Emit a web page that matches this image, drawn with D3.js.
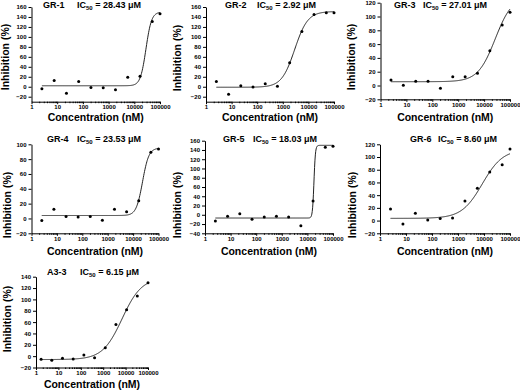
<!DOCTYPE html>
<html>
<head>
<meta charset="utf-8">
<script src="https://cdn.jsdelivr.net/npm/d3@7"></script>
<style>
  body { margin: 0; background: #fff; }
  text { font-family: "Liberation Sans", Arial, sans-serif; font-weight: bold; fill: #000; }
  .axis path, .axis line { stroke: #000; stroke-width: 1; }
  .axis text { font-size: 6px; }
</style>
</head>
<body>
<div id="chart"></div>
<script>
const width = 520;
const height = 390;

// compounds and their reported IC50 (uM)
const names = ["GR-1", "GR-2", "GR-3", "GR-4", "GR-5", "GR-6", "A3-3"];
const ic50Labels = ["28.43", "2.92", "27.01", "23.53", "18.03", "8.60", "6.15"];

// concentrations (nM)
const concGR = [2.54, 7.62, 22.9, 68.6, 206, 617, 1852, 5556, 16667, 50000, 100000];
const concA3 = [1.69, 5.08, 15.2, 45.7, 137, 412, 1235, 3704, 11111, 33333, 100000];

// inhibition (%)
const gr1 = [-4.1, 12.3, -13, 10.3, -1.4, -2, -6.2, 19.2, 21.2, 130.8, 146.6];
const gr2 = [10.6, -15.2, 1.8, -0.3, 5.8, 1.1, 48, 111, 145, 148.5, 148.5];
const gr3 = [8.0, 0.3, 6.1, 6.1, -4, 12.8, 12.8, 17.7, 50.5, 87.7, 106];
const gr4 = [-2.9, 12.4, 2.5, 2.0, 2.5, -2.5, 12.4, 9.2, 24, 89.2, 93.7];
const gr5 = [-13.4, -3.3, 2.4, -9.8, -4.7, -3.3, -4.7, -23.5, 29.8, 146, 148];
const gr6 = [18.3, -5.3, 11.5, 1.0, 3.1, 4.1, 30.9, 50.8, 76.5, 88, 112.7];
const a33 = [-5.5, -7.2, -3.7, -4.9, 2.1, -2.6, 14.9, 55.6, 81.8, 106.2, 129.4];

// fitted curve parameters (4PL)
const bottoms = [2, -1, 5.5, 4, -7, 3.5, -6];
const tops = [150, 151, 130, 95, 150, 112, 138];
const ec50s = [28430, 2920, 27010, 23530, 18030, 8600, 7000];
const hills = [4, 1.7, 1.3, 3.5, 15, 1.1, 1.0];

// y tick ranges
const yTickMin = [-20, -20, -20, -20, -40, -20, -20];
const yTickMax = [160, 160, 120, 100, 160, 120, 140];
const xTicks = [1, 10, 100, 1000, 10000, 100000];

const concs = [concGR, concGR, concGR, concGR, concGR, concGR, concA3];
const series = [gr1, gr2, gr3, gr4, gr5, gr6, a33];

// panel placement
const layout = [
  {x0: 31.5, x1: 160,  yLo: -30, yB: 101.7, yT: 7,     nameX: 43,  icX: 77,  titleY: 8.3,   yTitleX: 5.5,   yTitleY: 57,  xTitleY: 121},
  {x0: 206,  x1: 334,  yLo: -30, yB: 101.7, yT: 7,     nameX: 225, icX: 257, titleY: 8.3,   yTitleX: 177.5, yTitleY: 58,  xTitleY: 121},
  {x0: 380.5,x1: 510,  yLo: -20, yB: 99.3,  yT: 2.7,   nameX: 394, icX: 423, titleY: 8.3,   yTitleX: 351,   yTitleY: 57,  xTitleY: 121},
  {x0: 31.5, x1: 158.5,yLo: -20, yB: 233.3, yT: 144.3, nameX: 47,  icX: 77,  titleY: 142.2, yTitleX: 7,     yTitleY: 205, xTitleY: 255},
  {x0: 205,  x1: 333,  yLo: -40, yB: 233.3, yT: 140.7, nameX: 223, icX: 253, titleY: 142.2, yTitleX: 177,   yTitleY: 205, xTitleY: 255},
  {x0: 380,  x1: 510,  yLo: -20, yB: 233.3, yT: 144.3, nameX: 410, icX: 438, titleY: 142.2, yTitleX: 352.5, yTitleY: 205, xTitleY: 255},
  {x0: 36,   x1: 148,  yLo: -20, yB: 367.5, yT: 276.7, nameX: 47,  icX: 80,  titleY: 275,   yTitleX: 7.5,   yTitleY: 319, xTitleY: 388}
];

const svg = d3.select("#chart")
  .append("svg")
  .attr("width", width)
  .attr("height", height);

svg.append("rect").attr("width", width).attr("height", height).attr("fill", "#fff");

function fit(i, c) {
  return bottoms[i] + (tops[i] - bottoms[i]) / (1 + Math.pow(10, (Math.log10(ec50s[i]) - Math.log10(c)) * hills[i]));
}

// log minor ticks 2..9 in each decade
const minor = [];
for (let d = 1; d < 100000; d *= 10) {
  for (let k = 2; k <= 9; k++) minor.push(d * k);
}

names.forEach((name, i) => {
  const L = layout[i];
  const x = d3.scaleLog().domain([1, 100000]).range([L.x0, L.x1]);
  const y = d3.scaleLinear().domain([L.yLo, yTickMax[i]]).range([L.yB, L.yT]);

  const g = svg.append("g");

  g.append("g")
    .attr("class", "axis")
    .attr("transform", `translate(0,${L.yB})`)
    .call(d3.axisBottom(x).tickValues(minor).tickSize(1.5).tickSizeOuter(0).tickFormat(""))
    .select(".domain").remove();

  g.append("g")
    .attr("class", "axis")
    .attr("transform", `translate(0,${L.yB})`)
    .call(d3.axisBottom(x).tickValues(xTicks).tickSize(2.5).tickSizeOuter(0).tickPadding(1).tickFormat(d3.format("d")));

  g.append("g")
    .attr("class", "axis")
    .attr("transform", `translate(${L.x0},0)`)
    .call(d3.axisLeft(y).tickValues(d3.range(yTickMin[i], yTickMax[i] + 1, 20)).tickSize(3).tickSizeOuter(0).tickPadding(2));

  // fitted curve
  const cs = concs[i];
  const lo = Math.log10(cs[0]), hi = Math.log10(cs[cs.length - 1]);
  const curvePts = d3.range(0, 301).map(k => Math.pow(10, lo + (hi - lo) * k / 300));
  g.append("path")
    .datum(curvePts)
    .attr("fill", "none")
    .attr("stroke", "#222")
    .attr("stroke-width", 1)
    .attr("d", d3.line().x(c => x(c)).y(c => y(fit(i, c))));

  // data points
  g.selectAll("circle")
    .data(series[i])
    .enter()
    .append("circle")
    .attr("cx", (v, j) => x(cs[j]))
    .attr("cy", v => y(v))
    .attr("r", 1.5)
    .attr("fill", "#000");

  // title
  g.append("text")
    .attr("x", L.nameX)
    .attr("y", L.titleY)
    .attr("font-size", 9)
    .text(name);
  const t = g.append("text")
    .attr("x", L.icX)
    .attr("y", L.titleY)
    .attr("font-size", 9);
  t.append("tspan").text("IC");
  t.append("tspan").attr("font-size", 6).attr("dy", 2).text("50");
  t.append("tspan").attr("dy", -2).text(" = " + ic50Labels[i] + " \u03bcM");

  // axis titles
  g.append("text")
    .attr("x", (L.x0 + L.x1) / 2)
    .attr("y", L.xTitleY)
    .attr("text-anchor", "middle")
    .attr("font-size", 10.5)
    .text("Concentration (nM)");

  g.append("text")
    .attr("transform", `translate(${L.yTitleX},${L.yTitleY}) rotate(-90)`)
    .attr("text-anchor", "middle")
    .attr("dy", "0.35em")
    .attr("font-size", 10.5)
    .text("Inhibition (%)");
});
</script>
</body>
</html>
